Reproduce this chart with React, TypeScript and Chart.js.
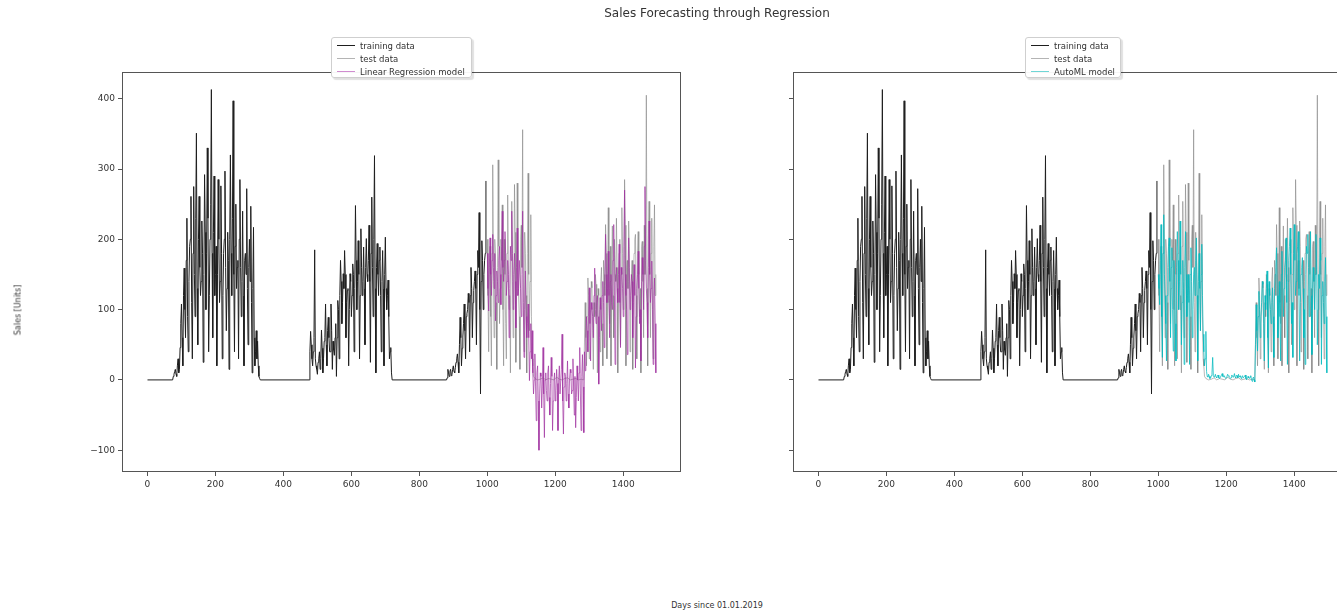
import React, { useEffect, useRef } from 'react';
import { Chart, registerables } from 'chart.js';

Chart.register(...registerables);

// ---- tick labels ----
const xTicks = [0, 200, 400, 600, 800, 1000, 1200, 1400];
const yTicks = [-100, 0, 100, 200, 300, 400];

// ---- training data (days since 01.01.2019) ----
// main samples every 4 days, "Mid" samples at the days in between
const trainFlatStart = 0;
const trainBlock1Start = 72;
const trainBlock1 = [0, 5, 12, 8, 20, 10, 46, 108, 20, 159, 60, 230, 40, 190, 261, 30, 275, 90, 351, 50, 261, 120, 226, 25, 292, 100, 330, 40, 200, 413, 60, 290, 150, 20, 285, 110, 276, 30, 180, 297, 70, 210, 15, 320, 120, 397, 40, 250, 160, 30, 285, 90, 240, 20, 180, 272, 50, 200, 247, 10, 217, 20, 70, 55, 5, 0];
const trainBlock1MidStart = 74;
const trainBlock1Mid = [0, 8, 15, 5, 30, 15, 80, 60, 120, 100, 170, 90, 140, 200, 110, 180, 150, 230, 130, 200, 160, 140, 180, 150, 210, 180, 230, 120, 250, 180, 210, 120, 190, 150, 200, 140, 180, 120, 200, 160, 130, 170, 200, 180, 230, 150, 190, 130, 170, 200, 160, 140, 120, 170, 150, 130, 160, 140, 110, 130, 60, 40, 30, 20, 2];
const trainBlock2Start = 476;
const trainBlock2 = [0, 69, 30, 40, 185, 20, 8, 30, 15, 71, 10, 55, 108, 20, 89, 40, 108, 15, 42, 60, 5, 113, 30, 170, 80, 151, 184, 60, 127, 20, 151, 90, 165, 40, 248, 100, 198, 30, 215, 120, 189, 50, 201, 140, 220, 25, 260, 90, 319, 10, 194, 120, 189, 40, 184, 20, 203, 100, 142, 30, 46, 0];
const trainBlock2MidStart = 478;
const trainBlock2Mid = [40, 50, 20, 60, 30, 15, 25, 40, 30, 45, 30, 60, 50, 70, 60, 40, 70, 55, 35, 80, 60, 100, 120, 140, 110, 130, 150, 110, 130, 100, 140, 120, 150, 130, 170, 140, 150, 120, 160, 140, 130, 160, 150, 170, 140, 180, 160, 200, 130, 160, 150, 170, 120, 140, 130, 150, 130, 120, 90, 40, 10];
const trainBlock3Start = 880;
const trainBlock3 = [0, 15, 5, 15, 8, 20, 10, 25, 37, 10, 89, 20, 61, 108, 30, 94, 123, 40, 160, 60, 127, 155, 50, 184, 238, -20, 198, 100, 170, 283];
const trainBlock3MidStart = 882;
const trainBlock3Mid = [3, 10, 12, 6, 15, 12, 18, 30, 25, 50, 60, 45, 80, 70, 90, 100, 110, 120, 130, 110, 140, 130, 150, 160, 100, 140, 170, 150, 180];

// ---- test data ----
const testBlockAStart = 1000;
const testBlockA = [200, 40, 190, 20, 306, 60, 180, 15, 313, 80, 200, 249, 20, 150, 30, 263, 100, 10, 254, 60, 278, 25, 280, 120, 15, 220, 356, 40, 180, 10, 294, 70, 235, 30, 5];
const testBlockAMidStart = 1002;
const testBlockAMid = [120, 150, 90, 180, 140, 200, 110, 160, 190, 130, 170, 100, 200, 80, 180, 150, 120, 190, 140, 100, 210, 130, 170, 90, 200, 160, 110, 210, 120, 180, 150, 140, 90, 20];
const testBlockBStart = 1140; // every 8 days
const testBlockB = [2, 0, 1, 3, 0, 2, 1, 0, 4, 1, 0, 2, 3, 0, 1, 2, 0, 1, 0];
const testBlockCStart = 1288;
const testBlockC = [110, 20, 145, 30, 100, 131, 15, 90, 136, 10, 120, 40, 160, 20, 150, 221, 30, 245, 80, 20, 219, 60, 150, 230, 10, 180, 50, 245, 100, 285, 20, 170, 226, 40, 140, 15, 180, 207, 30, 211, 90, 10, 197, 60, 150, 405, 20, 254, 60, 230, 30, 249, 150];
const testBlockCMidStart = 1290;
const testBlockCMid = [60, 90, 120, 80, 140, 70, 110, 150, 90, 130, 100, 140, 80, 170, 120, 180, 140, 110, 190, 150, 120, 200, 140, 160, 110, 200, 150, 180, 120, 220, 160, 130, 190, 110, 170, 140, 200, 120, 180, 150, 130, 190, 140, 220, 170, 130, 200, 150, 180, 110, 190, 120];

// ---- Linear Regression model predictions ----
const lrBlockAStart = 1000;
const lrBlockA = [180, 98, 202, 120, 207, 130, 84, 155, 110, 190, 107, 240, 140, 211, 120, 170, 60, 190, 240, 100, 180, 74, 216, 130, 170, 90, 240, 32, 155, 60, 108, -1, 80, 70];
const lrBlockAMidStart = 1002;
const lrBlockAMid = [130, 160, 150, 170, 160, 180, 120, 140, 170, 150, 190, 160, 170, 180, 140, 150, 130, 170, 180, 150, 140, 160, 120, 170, 130, 150, 110, 100, 90, 80, 60, 40, 30, 10];
const lrBlockBStart = 1136;
const lrBlockB = [-20, 37, -58, 20, -100, 10, -40, 46, -82, 10, -30, 20, -50, 32, -72, 0, -30, 15, -72, 20, -20, 65, -77, 10, -30, 27, -40, 15, -20, 30, -50, -68, 20, -30, 46, -72, 36, -75];
const lrBlockBMidStart = 1138;
const lrBlockBMid = [0, -10, 10, -30, -20, 5, -10, -20, 0, -15, 10, -25, -5, 5, -30, 10, -15, -5, 0, -20, 15, -30, -10, 5, -5, -20, 0, 10, -15, -10, 5, -25, 0, 10, -20, 5, -10, 40];
const lrBlockCStart = 1288;
const lrBlockC = [13, 90, 40, 131, 27, 100, 60, 159, 80, 120, -6, 117, 70, 140, 46, 207, 110, 183, 60, 150, 100, 221, 22, 160, 110, 193, 46, 150, 90, 270, 120, 36, 202, 100, 150, 60, 164, 17, 130, 183, 80, 27, 174, 100, 275, 130, 60, 226, 110, 169, 22, 145, 10];
const lrBlockCMidStart = 1290;
const lrBlockCMid = [60, 70, 90, 80, 110, 90, 120, 100, 110, 90, 60, 100, 120, 110, 140, 150, 130, 120, 140, 110, 170, 120, 140, 130, 150, 110, 160, 130, 190, 150, 100, 140, 160, 120, 140, 110, 120, 90, 150, 130, 100, 140, 150, 190, 170, 110, 160, 150, 130, 100, 120, 80];

// ---- AutoML model predictions ----
const amBlockAStart = 1000;
const amBlockA = [150, 107, 221, 32, 235, 120, 27, 160, 202, 60, 188, 41, 150, 27, 211, 100, 226, 50, 170, 22, 211, 90, 150, 22, 188, 60, 150, 120, 202, 27, 180, 70, 193, 65];
const amBlockAMidStart = 1002;
const amBlockAMid = [130, 170, 90, 180, 150, 80, 120, 190, 140, 160, 100, 170, 80, 160, 170, 140, 150, 110, 130, 160, 150, 120, 110, 150, 140, 100, 160, 170, 120, 140, 130, 150, 120, 40];
const amBlockBStart = 1136;
const amBlockB = [20, 69, 5, 8, 2, 6, 32, 4, 8, 3, 7, 2, 5, 9, 4, 6, 3, 8, 5, 2, 7, 4, 9, 3, 6, 8, 4, 2, 6, 3, 7, 0, 5, 2, 6, -2, 4, -3];
const amBlockBMidStart = 1138;
const amBlockBMid = [30, 12, 4, 5, 3, 10, 6, 5, 4, 6, 3, 4, 7, 5, 6, 2, 5, 6, 4, 3, 6, 5, 4, 7, 3, 5, 6, 4, 3, 5, 2, 4, 3, 4, 1, 2, 0, 50];
const amBlockCStart = 1288;
const amBlockC = [107, 41, 126, 60, 110, 136, 27, 100, 155, 17, 120, 80, 131, 32, 150, 188, 60, 140, 27, 183, 90, 160, 202, 22, 170, 216, 80, 32, 221, 120, 180, 211, 27, 150, 174, 60, 22, 190, 207, 90, 211, 36, 160, 100, 207, 50, 150, 202, 22, 140, 80, 174, 10];
const amBlockCMidStart = 1290;
const amBlockCMid = [70, 90, 100, 90, 140, 80, 120, 130, 60, 140, 100, 110, 90, 130, 160, 120, 110, 90, 150, 140, 130, 170, 110, 140, 190, 150, 110, 180, 170, 140, 190, 120, 110, 160, 130, 100, 150, 180, 160, 170, 120, 130, 140, 150, 160, 100, 130, 170, 120, 110, 140, 90];

const STEP = 4;

function blockPoints(start: number, step: number, values: number[]) {
  return values.map((v, i) => ({ x: start + i * step, y: v }));
}
function merged(...parts: { x: number; y: number }[][]) {
  return ([] as { x: number; y: number }[]).concat(...parts).sort((a, b) => a.x - b.x);
}

const trainingPoints = merged(
  [{ x: trainFlatStart, y: 0 }],
  blockPoints(trainBlock1Start, STEP, trainBlock1),
  blockPoints(trainBlock1MidStart, STEP, trainBlock1Mid),
  blockPoints(trainBlock2Start, STEP, trainBlock2),
  blockPoints(trainBlock2MidStart, STEP, trainBlock2Mid),
  blockPoints(trainBlock3Start, STEP, trainBlock3),
  blockPoints(trainBlock3MidStart, STEP, trainBlock3Mid),
);
const testPoints = merged(
  blockPoints(testBlockAStart, STEP, testBlockA),
  blockPoints(testBlockAMidStart, STEP, testBlockAMid),
  blockPoints(testBlockBStart, 8, testBlockB),
  blockPoints(testBlockCStart, STEP, testBlockC),
  blockPoints(testBlockCMidStart, STEP, testBlockCMid),
);
const lrPoints = merged(
  blockPoints(lrBlockAStart, STEP, lrBlockA),
  blockPoints(lrBlockAMidStart, STEP, lrBlockAMid),
  blockPoints(lrBlockBStart, STEP, lrBlockB),
  blockPoints(lrBlockBMidStart, STEP, lrBlockBMid),
  blockPoints(lrBlockCStart, STEP, lrBlockC),
  blockPoints(lrBlockCMidStart, STEP, lrBlockCMid),
);
const amPoints = merged(
  blockPoints(amBlockAStart, STEP, amBlockA),
  blockPoints(amBlockAMidStart, STEP, amBlockAMid),
  blockPoints(amBlockBStart, STEP, amBlockB),
  blockPoints(amBlockBMidStart, STEP, amBlockBMid),
  blockPoints(amBlockCStart, STEP, amBlockC),
  blockPoints(amBlockCMidStart, STEP, amBlockCMid),
);

const FONT = 'DejaVu Sans';
const TRAIN_COLOR = '#1e1e1e';
const TEST_COLOR = 'rgba(125,125,125,0.55)';
const LR_COLOR = 'rgba(160,50,160,0.7)';
const AM_COLOR = 'rgba(0,185,190,0.75)';
const TEST_LEGEND = '#b4b4b4';
const LR_LEGEND = '#d08cd0';
const AM_LEGEND = '#6fd6d6';

const framePlugin = {
  id: 'frame',
  afterDatasetsDraw(chart: any) {
    const { ctx, chartArea } = chart;
    const { left, top, right, bottom } = chartArea;
    ctx.save();
    ctx.strokeStyle = '#555';
    ctx.lineWidth = 1;
    ctx.strokeRect(left + 0.5, top + 0.5, right - left - 1, bottom - top - 1);
    ctx.restore();
  },
};

type PanelProps = {
  modelLabel: string;
  modelColor: string;
  modelPoints: { x: number; y: number }[];
  showYLabels: boolean;
  left: number;
};

function Panel({ modelLabel, modelColor, modelPoints, showYLabels, left }: PanelProps) {
  const ref = useRef<HTMLCanvasElement>(null);
  useEffect(() => {
    if (!ref.current) return;
    const chart = new Chart(ref.current, {
      type: 'line',
      data: {
        datasets: [
          { label: 'training data', data: trainingPoints, borderColor: TRAIN_COLOR, borderWidth: 1, pointRadius: 0, order: 3 },
          { label: 'test data', data: testPoints, borderColor: TEST_COLOR, borderWidth: 1, pointRadius: 0, order: 2 },
          { label: modelLabel, data: modelPoints, borderColor: modelColor, borderWidth: 1, pointRadius: 0, order: 1 },
        ] as any,
      },
      options: {
        animation: false,
        responsive: false,
        maintainAspectRatio: false,
        layout: { padding: { top: 72, right: 19, left: 0, bottom: 0 } },
        elements: { line: { tension: 0 } },
        plugins: { legend: { display: false }, tooltip: { enabled: false }, title: { display: false } },
        scales: {
          x: {
            type: 'linear',
            min: -75,
            max: 1570,
            afterBuildTicks: (scale: any) => {
              scale.ticks = xTicks.map((v) => ({ value: v }));
            },
            afterFit: (scale: any) => {
              scale.height = 28;
            },
            grid: { display: true, drawOnChartArea: false, drawTicks: true, tickLength: 4, color: '#555' },
            border: { display: false },
            ticks: {
              font: { family: FONT, size: 9 },
              color: '#333',
              padding: 3,
              maxRotation: 0,
              autoSkip: false,
              callback: (v: any) => String(v),
            },
          },
          y: {
            type: 'linear',
            min: -131,
            max: 438,
            afterBuildTicks: (scale: any) => {
              scale.ticks = yTicks.map((v) => ({ value: v }));
            },
            afterFit: (scale: any) => {
              scale.width = 122;
            },
            grid: { display: true, drawOnChartArea: false, drawTicks: true, tickLength: 4, color: '#555' },
            border: { display: false },
            ticks: {
              font: { family: FONT, size: 9 },
              color: '#333',
              padding: 3,
              autoSkip: false,
              callback: (v: any) => (showYLabels ? (Number(v) < 0 ? '\u2212' + Math.abs(Number(v)) : String(v)) : ''),
            },
          },
        },
      } as any,
      plugins: [framePlugin],
    });
    return () => chart.destroy();
  }, []);
  return (
    <canvas
      ref={ref}
      width={700}
      height={500}
      style={{ position: 'absolute', left, top: 0, width: 700, height: 500 }}
    />
  );
}

function Legend({ left, width, modelLabel, modelColor }: { left: number; width: number; modelLabel: string; modelColor: string }) {
  const rows = [
    { label: 'training data', color: TRAIN_COLOR },
    { label: 'test data', color: TEST_LEGEND },
    { label: modelLabel, color: modelColor },
  ];
  return (
    <div
      style={{
        position: 'absolute',
        left,
        top: 37,
        width,
        height: 41,
        boxSizing: 'border-box',
        border: '1px solid #cfcfcf',
        borderRadius: 3,
        background: 'rgba(255,255,255,0.95)',
        boxShadow: '2px 2px 1px rgba(0,0,0,0.12)',
        fontFamily: FONT,
        fontSize: 8.5,
        color: '#333',
        paddingTop: 1,
      }}
    >
      {rows.map((r) => (
        <div key={r.label} style={{ display: 'flex', alignItems: 'center', height: 13, whiteSpace: 'nowrap' }}>
          <div style={{ width: 18, height: 0, borderTop: '1.5px solid ' + r.color, marginLeft: 5, marginRight: 5 }} />
          <span>{r.label}</span>
        </div>
      ))}
    </div>
  );
}

export default function App() {
  return (
    <div
      style={{
        position: 'fixed',
        left: 0,
        top: 0,
        width: 1337,
        height: 611,
        overflow: 'hidden',
        background: '#fff',
        fontFamily: FONT,
      }}
    >
      <Panel modelLabel="Linear Regression model" modelColor={LR_COLOR} modelPoints={lrPoints} showYLabels={true} left={0} />
      <Panel modelLabel="AutoML model" modelColor={AM_COLOR} modelPoints={amPoints} showYLabels={false} left={671} />
      <Legend left={331} width={141} modelLabel="Linear Regression model" modelColor={LR_LEGEND} />
      <Legend left={1025} width={96} modelLabel="AutoML model" modelColor={AM_LEGEND} />
      <div
        style={{
          position: 'absolute',
          left: 717,
          top: 6,
          transform: 'translateX(-50%)',
          fontSize: 12,
          color: '#333',
          whiteSpace: 'nowrap',
        }}
      >
        Sales Forecasting through Regression
      </div>
      <div
        style={{
          position: 'absolute',
          left: 18,
          top: 310,
          transform: 'translate(-50%, -50%) rotate(-90deg)',
          fontSize: 8,
          color: '#333',
          whiteSpace: 'nowrap',
        }}
      >
        Sales [Units]
      </div>
      <div
        style={{
          position: 'absolute',
          left: 717,
          top: 605,
          transform: 'translate(-50%, -50%)',
          fontSize: 8,
          color: '#333',
          whiteSpace: 'nowrap',
        }}
      >
        Days since 01.01.2019
      </div>
    </div>
  );
}
